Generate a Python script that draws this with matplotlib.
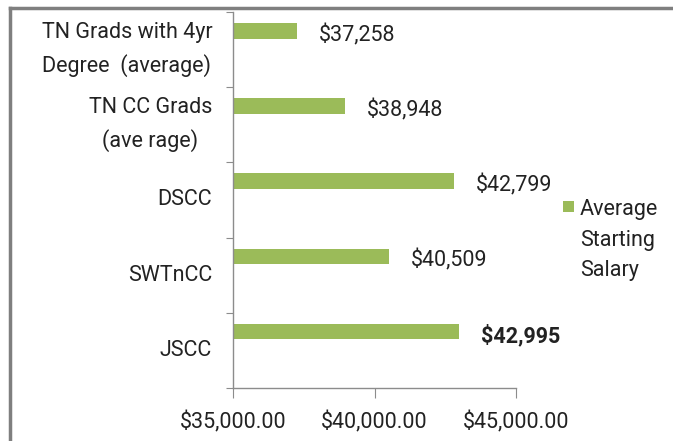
import matplotlib
matplotlib.use("Agg")
import matplotlib.pyplot as plt
from matplotlib.patches import Rectangle
from matplotlib.ticker import FuncFormatter

categories = ["TN Grads with 4yr\nDegree  (average)", "TN CC Grads\n(ave rage)", "DSCC", "SWTnCC", "JSCC"]
values = [37258, 38948, 42799, 40509, 42995]
value_labels = ["$37,258", "$38,948", "$42,799", "$40,509", "$42,995"]
bold_flags = [False, False, False, False, True]
series_name = "Average\nStarting\nSalary"
xticks = [35000, 40000, 45000]

plt.rcParams['font.family'] = ['Roboto', 'DejaVu Sans']
text_color = "#222222"
green = "#9BBB59"
axis_color = "#8C8C8C"
fs = 15.5
ls = 1.62

fig = plt.figure(figsize=(6.73, 4.41), dpi=100)
ax = fig.add_axes([233/673, 1-388/441, (516-233)/673, (388-12)/441])

pos = list(range(len(categories)))
bar_pos = [p - 0.25 for p in pos]
ax.barh(bar_pos, [v - 35000 for v in values], left=35000, height=0.21, color=green)

ax.set_xlim(35000, 45000)
ax.set_ylim(len(categories) - 0.5, -0.5)
ax.set_xticks(xticks)
ax.xaxis.set_major_formatter(FuncFormatter(lambda v, p: "${:,.2f}".format(v)))
ax.set_yticks([p - 0.5 for p in pos] + [len(categories) - 0.5])
ax.set_yticklabels([])
ax.set_yticks(pos, minor=True)
labs = ax.set_yticklabels(categories, minor=True, fontsize=fs, color=text_color,
                          linespacing=ls, multialignment='center')
for t in labs:
    t.set_verticalalignment('center')
ax.tick_params(axis='y', which='minor', length=0, pad=15)
ax.tick_params(axis='y', which='major', length=5, color=axis_color, direction='out')
ax.tick_params(axis='x', length=7, color=axis_color, direction='out', pad=10,
               labelsize=fs, labelcolor=text_color)

for s in ["top", "right"]:
    ax.spines[s].set_visible(False)
for s in ["left", "bottom"]:
    ax.spines[s].set_color(axis_color)
    ax.spines[s].set_linewidth(1.0)

for bp, v, lab, b in zip(bar_pos, values, value_labels, bold_flags):
    ax.annotate(lab, xy=(v, bp), xytext=(16, -3), textcoords="offset points",
                ha="left", va="center", fontsize=fs, color=text_color,
                fontweight="bold" if b else "normal", annotation_clip=False)

# legend
fig.patches.append(Rectangle((563/673, 1-212/441), 11/673, 11/441, transform=fig.transFigure,
                             facecolor=green, edgecolor="none"))
fig.text(580/673, 1-240/441, series_name, ha="left", va="center", fontsize=fs,
         color=text_color, linespacing=ls)

# outer border (left and top)
fig.add_artist(plt.Line2D([10/673, 10/673], [0, 1-8/441], transform=fig.transFigure, color="#7F7F7F", lw=2.5))
fig.add_artist(plt.Line2D([10/673, 1], [1-8/441, 1-8/441], transform=fig.transFigure, color="#7F7F7F", lw=2.5))

fig.savefig("out.png", dpi=100)
